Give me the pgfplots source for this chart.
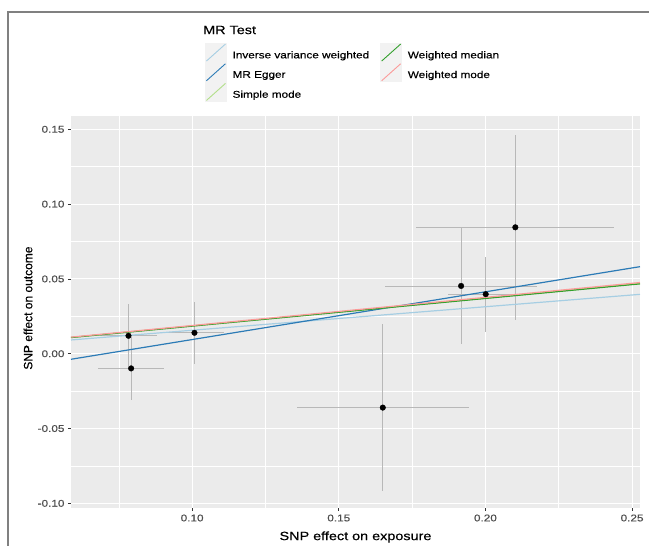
\documentclass[border=0pt]{standalone}
\usepackage{pgfplots}
\pgfplotsset{compat=1.18}
\usepackage{pgfplotstable}
\usepackage{fontspec}
\setmainfont{Liberation Sans}[FakeStretch=1.2, FakeBold=0.4]
\newfontfamily\ylabfont{Liberation Sans}[FakeBold=0.4]

\definecolor{panelbg}{HTML}{EBEBEB}
\definecolor{keybg}{HTML}{F2F2F2}
\definecolor{ticklab}{HTML}{4D4D4D}
\definecolor{ivw}{HTML}{A6CEE3}
\definecolor{egger}{HTML}{2C7BB6}
\definecolor{smode}{HTML}{B2DF8A}
\definecolor{wmedian}{HTML}{33A02C}
\definecolor{wmode}{HTML}{FB9A99}

% SNP estimates with their standard errors
\pgfplotstableread{
x       y        ex      ey
0.0783  0.0120   0.0097  0.0210
0.0792  -0.0098  0.0113  0.0212
0.1008  0.0140   0.0100  0.0208
0.1650  -0.0360  0.0293  0.0560
0.1917  0.0453   0.0260  0.0390
0.2001  0.0398   0.0130  0.0250
0.2102  0.0845   0.0338  0.0620
}\snpdata

% legend key: grey box with a diagonal line
\pgfplotsset{legend image code/.code={
    \fill[keybg] (0pt,-6.4pt) rectangle (21pt,12.4pt);
    \draw[#1] (1pt,-5.5pt) -- (20pt,11.5pt);
}}

\begin{document}
\begin{tikzpicture}
\path[use as bounding box] (0,0) rectangle (649pt,546pt);
\draw[black!50, line width=1.5pt] (8pt,0pt) -- (8pt,534pt) -- (649pt,534pt);

\begin{axis}[
    at={(71pt,38pt)}, anchor=south west,
    scale only axis, width=569pt, height=392pt,
    xmin=0.0587, xmax=0.2527,
    ymin=-0.1031, ymax=0.1589,
    xtick={0.10,0.15,0.20,0.25},
    xticklabels={0.10,0.15,0.20,0.25},
    ytick={-0.10,-0.05,0,0.05,0.10,0.15},
    yticklabels={-0.10,-0.05,0.00,0.05,0.10,0.15},
    minor xtick={0.075,0.125,0.175,0.225},
    minor ytick={-0.075,-0.025,0.025,0.075,0.125},
    grid=both,
    major grid style={white, line width=1.1pt},
    minor grid style={white, line width=0.55pt},
    axis background/.style={fill=panelbg},
    axis line style={draw=none},
    tick pos=left, tick align=outside,
    major tick length=3pt, minor tick length=0pt,
    tick style={color=black!80, line width=0.8pt},
    ticklabel style={font=\fontsize{9.8}{11}\selectfont, text=ticklab},
    xlabel={SNP effect on exposure},
    ylabel={SNP effect on outcome},
    xlabel style={at={(axis description cs:0.5,-0.074)}, anchor=center,
        font=\fontsize{12}{14}\selectfont},
    ylabel style={at={(axis description cs:-0.0756,0.51)}, anchor=center,
        font=\ylabfont\fontsize{12}{14}\selectfont},
    legend columns=2,
    legend cell align=left,
    legend style={at={(axis description cs:0.2355,1.187)}, anchor=north west,
        draw=none, fill=none, inner sep=0pt, outer sep=0pt, row sep=0pt,
        font=\fontsize{9.8}{11}\selectfont,
        /tikz/every odd column/.append style={column sep=3.7pt},
        /tikz/every even column/.append style={column sep=9pt}},
]

% points with horizontal and vertical error bars
\addplot[only marks, mark=*, mark size=2.8pt, black, forget plot,
    error bars/.cd, x dir=both, x explicit, y dir=both, y explicit,
    error mark=none, error bar style={color=black!28, line width=0.9pt}]
    table[x=x, y=y, x error=ex, y error=ey] {\snpdata};

% MR fitted lines
\addplot[ivw, line width=1.2pt, forget plot] coordinates {(0.0587,0.0092) (0.2527,0.0397)};
\addplot[egger, line width=1.2pt, forget plot] coordinates {(0.0587,-0.0037) (0.2527,0.0582)};
\addplot[smode, line width=1.2pt, forget plot] coordinates {(0.0587,0.0109) (0.2527,0.0470)};
\addplot[wmedian, line width=1.2pt, forget plot] coordinates {(0.0587,0.0108) (0.2527,0.0467)};
\addplot[wmode, line width=1.2pt, forget plot] coordinates {(0.0587,0.0111) (0.2527,0.0476)};

% legend, filled row by row
\addlegendimage{ivw, line width=0.9pt}
\addlegendentry{Inverse variance weighted}
\addlegendimage{wmedian, line width=0.9pt}
\addlegendentry{Weighted median}
\addlegendimage{egger, line width=0.9pt}
\addlegendentry{MR Egger}
\addlegendimage{wmode, line width=0.9pt}
\addlegendentry{Weighted mode}
\addlegendimage{smode, line width=0.9pt}
\addlegendentry{Simple mode}
\end{axis}

\node[anchor=west, font=\fontsize{12}{14}\selectfont, inner sep=0pt] at (203pt,516pt) {MR Test};
\end{tikzpicture}
\end{document}
